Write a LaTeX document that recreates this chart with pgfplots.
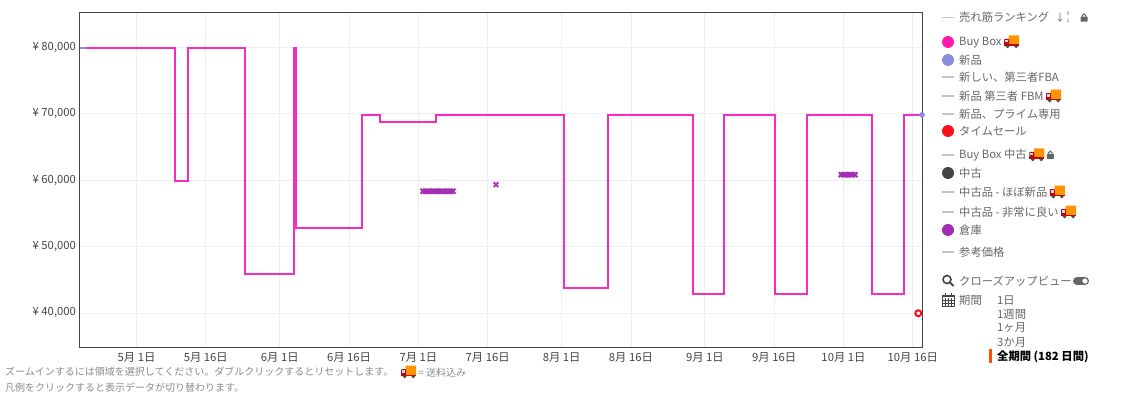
\documentclass[border=0pt]{standalone}
\usepackage{pgfplots}
\pgfplotsset{compat=1.18}
\usepackage{fontspec}
\setmainfont{Noto Sans CJK JP}
\definecolor{bbox}{HTML}{F52CBE}
\definecolor{bdot}{HTML}{FF1AAE}
\definecolor{newc}{HTML}{8A8FDD}
\definecolor{redc}{HTML}{FF0D1A}
\definecolor{purp}{HTML}{A22FB2}
\definecolor{gridc}{HTML}{EEEEEE}
\definecolor{axc}{HTML}{444444}
\definecolor{txt}{HTML}{666666}
\definecolor{foot}{HTML}{8A8A8A}
\definecolor{dashc}{HTML}{C4C4C4}
\newcommand{\truck}{\tikz[baseline=-2.5pt,x=1pt,y=1pt]{%
  \fill[orange!85!yellow,rounded corners=0.5pt] (4.5,-1.5) rectangle (15,8);
  \fill[red!80!black,rounded corners=0.8pt] (0,-2.5) rectangle (5,4.5);
  \fill[red!80!black] (0,-2.5) rectangle (15,-1);
  \fill[cyan!30] (1,1) rectangle (4,3.8);
  \fill[black!70] (3.5,-3) circle (1.9);
  \fill[black!70] (12,-3) circle (1.9);
}}
\newcommand{\lockicon}{\tikz[baseline=-0.5pt,x=1pt,y=1pt]{%
  \draw[txt,line width=1pt] (1.7,4) -- (1.7,5.5) arc (180:0:1.8) -- (5.3,4);
  \fill[txt,rounded corners=0.5pt] (0,-0.5) rectangle (7,4.6);
}}
\newcommand{\LT}[3]{\pgfmathsetmacro{\yy}{404-#2}\node[anchor=west,inner sep=0pt,text=txt,font=\fontsize{11.3}{12}\selectfont] at (#1pt,\yy pt) {#3};}
\newcommand{\LD}[1]{\pgfmathsetmacro{\yy}{404-#1}\draw[dashc,line width=1.3pt] (942pt,\yy pt) -- (954pt,\yy pt);}
\newcommand{\LC}[2]{\pgfmathsetmacro{\yy}{404-#1}\fill[#2] (948pt,\yy pt) circle (6pt);}
\begin{document}
\begin{tikzpicture}
\path (0pt,0pt) rectangle (1131pt,404pt);
\begin{axis}[
  at={(79.5pt,56.5pt)}, anchor=south west,
  scale only axis, width=842.5pt, height=335pt,
  xmin=-12.34, xmax=170.0,
  ymin=34800, ymax=85200,
  scaled ticks=false,
  xtick={0,15,31,46,61,76,92,107,123,138,153,168},
  xticklabels={5月 1日,5月 16日,6月 1日,6月 16日,7月 1日,7月 16日,8月 1日,8月 16日,9月 1日,9月 16日,10月 1日,10月 16日},
  ytick={40000,50000,60000,70000,80000},
  yticklabels={{¥ 40,000},{¥ 50,000},{¥ 60,000},{¥ 70,000},{¥ 80,000}},
  major tick length=0pt,
  grid=major, major grid style={gridc,line width=0.8pt},
  axis line style={axc,line width=1pt},
  tick label style={font=\fontsize{11.3}{12}\selectfont,text=axc},
  xticklabel style={yshift=-1.5pt},
  clip=false,
]
\addplot[newc,line width=2pt] coordinates {(-12.2,79900) (-10.9,79900)};
\addplot[bbox,line width=2.2pt,line join=miter] coordinates {
 (-10.9,79900) (8.3,79900) (8.3,59800) (11.1,59800) (11.1,79900) (23.5,79900)
 (23.5,45800) (34.1,45800) (34.1,79900) (34.5,79900) (34.5,52800) (48.8,52800)
 (48.8,69800) (52.7,69800) (52.7,68700) (64.8,68700) (64.8,69800) (92.5,69800)
 (92.5,43800) (102,43800) (102,69800) (120.5,69800) (120.5,42800) (127.2,42800)
 (127.2,69800) (138.2,69800) (138.2,42800) (145.1,42800) (145.1,69800) (159.2,69800)
 (159.2,42800) (166.1,42800) (166.1,69800) (170,69800)};
\addplot[only marks,mark=x,mark size=3.4pt,purp,mark options={line width=1.9pt}] coordinates {
 (62,58300) (62.5,58300) (63,58300) (63.5,58300) (64,58300) (64.5,58300) (65,58300)
 (65.5,58300) (66,58300) (66.5,58300) (67,58300) (67.5,58300) (68,58300) (68.5,58300)};
\addplot[only marks,mark=x,mark size=3.4pt,purp,mark options={line width=1.9pt}] coordinates {(77.8,59300)};
\addplot[only marks,mark=x,mark size=3.4pt,purp,mark options={line width=1.9pt}] coordinates {
 (152.5,60800) (153,60800) (153.5,60800) (154,60800) (154.5,60800) (155,60800) (155.5,60800)};
\addplot[only marks,mark=*,mark size=2.6pt,newc,mark options={draw=newc,fill=newc}] coordinates {(170,69800)};
\addplot[only marks,mark=*,mark size=3pt,mark options={draw=redc,fill=white,line width=2pt}] coordinates {(169.2,39950)};
\end{axis}
\LD{17.5}\LT{959}{17.5}{売れ筋ランキング}
\node[anchor=center,inner sep=0pt,text=txt,font=\fontsize{10}{10}\selectfont] at (1060pt,386.5pt) {↓};
\node[anchor=center,inner sep=0pt,text=txt,font=\fontsize{5}{6}\selectfont] at (1068pt,390.5pt) {9};
\node[anchor=center,inner sep=0pt,text=txt,font=\fontsize{5}{6}\selectfont] at (1068pt,383pt) {1};
\node[anchor=center,inner sep=0pt] at (1084pt,386.5pt) {\lockicon};
\LC{42}{bdot}\LT{959}{42}{Buy Box \truck}
\LC{60}{newc}\LT{959}{60}{新品}
\LD{77}\LT{959}{77}{新しい、第三者FBA}
\LD{96}\LT{959}{96}{新品 第三者 FBM \truck}
\LD{114}\LT{959}{114}{新品、プライム専用}
\LC{131}{redc}\LT{959}{131}{タイムセール}
\LD{155}\LT{959}{155}{Buy Box 中古 \truck\ \lockicon}
\LC{173}{axc}\LT{959}{173}{中古}
\LD{192}\LT{959}{192}{中古品 - ほぼ新品 \truck}
\LD{212}\LT{959}{212}{中古品 - 非常に良い \truck}
\LC{230}{purp}\LT{959}{230}{倉庫}
\LD{252}\LT{959}{252}{参考価格}
\LT{959}{281}{クローズアップビュー}
\LT{959}{300}{期間}
\LT{997}{300.5}{1日}
\LT{997}{314}{1週間}
\LT{997}{328}{1ヶ月}
\LT{997}{342}{3か月}
\node[anchor=west,inner sep=0pt,font=\fontsize{11.3}{12}\selectfont\bfseries,text=black] at (997pt,47.5pt) {全期間 (182 日間)};
\fill[orange!60!red] (989pt,41pt) rectangle (991.5pt,55pt);
% toggle
\fill[txt] (1077pt,119pt) rectangle (1085pt,127pt);
\fill[txt] (1077pt,123pt) circle (4pt);
\fill[txt] (1085pt,123pt) circle (4pt);
\fill[white] (1085pt,123pt) circle (2.6pt);
% magnifier
\draw[axc,line width=1.6pt] (947pt,124.5pt) circle (4pt);
\draw[axc,line width=2pt] (950pt,121.5pt) -- (953.5pt,118pt);
% calendar
\draw[axc,line width=0.7pt] (942pt,98pt) rectangle (954pt,109pt);
\fill[axc] (942pt,106.5pt) rectangle (954pt,109pt);
\draw[axc,line width=0.5pt] (945pt,98pt) -- (945pt,106pt) (948pt,98pt) -- (948pt,106pt) (951pt,98pt) -- (951pt,106pt)
  (942pt,100.7pt) -- (954pt,100.7pt) (942pt,103.4pt) -- (954pt,103.4pt);
\draw[axc,line width=1pt] (945pt,107pt) -- (945pt,110.5pt) (951pt,107pt) -- (951pt,110.5pt);
\node[anchor=west,inner sep=0pt,text=foot,font=\fontsize{10}{11}\selectfont] at (5pt,32pt) {ズームインするには領域を選択してください。ダブルクリックするとリセットします。};
\node[anchor=west,inner sep=0pt,text=foot,font=\fontsize{10}{11}\selectfont] at (401pt,32pt) {\truck\ = 送料込み};
\node[anchor=west,inner sep=0pt,text=foot,font=\fontsize{10}{11}\selectfont] at (5pt,16pt) {凡例をクリックすると表示データが切り替わります。};
\end{tikzpicture}
\end{document}
